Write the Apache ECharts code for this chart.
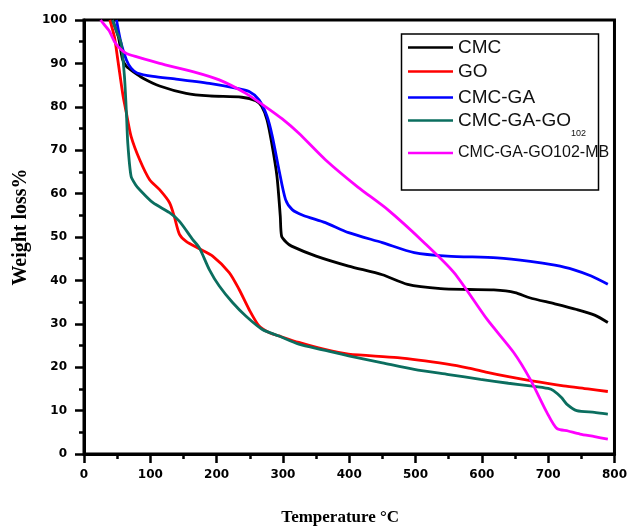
<!DOCTYPE html>
<html>
<head>
<meta charset="utf-8">
<script src="https://cdn.jsdelivr.net/npm/echarts@6/dist/echarts.min.js"></script>
<style>
html,body{margin:0;padding:0;background:#fff;}
#chart{width:630px;height:531px;}
</style>
</head>
<body>
<div id="chart"></div>
<script>
// ---- data ----
const seriesNames = ['CMC', 'GO', 'CMC-GA', 'CMC-GA-GO102', 'CMC-GA-GO102-MB'];

const cmcT = [43, 52, 58, 64, 75, 89, 114, 154, 189, 238, 259, 268, 276, 283, 291, 296, 298, 305, 313, 350, 399, 450, 488, 538, 580, 618, 650, 672, 710, 743, 770, 790];
const cmcW = [100, 96, 91, 89.3, 88, 86.6, 84.8, 83.1, 82.5, 82.2, 81.4, 80.1, 77, 71.7, 64, 54.8, 50.2, 48.8, 47.9, 45.6, 43.3, 41.3, 39.1, 38.1, 37.9, 37.8, 37.2, 36, 34.6, 33.3, 32, 30.3];

const goT = [39, 46, 51, 59, 64, 71, 84, 99, 114, 129, 136, 144, 154, 174, 194, 219, 234, 249, 264, 279, 294, 324, 360, 399, 473, 548, 580, 608, 640, 673, 723, 760, 790];
const goW = [100, 96, 90.8, 82.4, 78.5, 73.2, 67.8, 63.2, 60.9, 57.9, 54.8, 50.6, 49, 47.3, 45.6, 41.8, 37.9, 33.3, 29.5, 28, 27.2, 25.7, 24.2, 23, 22.2, 20.7, 19.8, 18.8, 17.8, 16.9, 15.7, 15, 14.4];

const gaT = [49, 56, 64, 71, 80, 104, 139, 189, 229, 249, 264, 276, 284, 294, 304, 314, 330, 364, 399, 450, 498, 548, 623, 673, 710, 738, 765, 790];
const gaW = [100, 94.6, 90.8, 88.9, 87.8, 87, 86.4, 85.4, 84.3, 83.5, 81.6, 77.8, 73.2, 65.5, 58.6, 56.3, 55, 53.3, 51, 48.7, 46.4, 45.6, 45.2, 44.4, 43.5, 42.5, 41, 39.1];

const gagoT = [43, 50, 56, 61, 64, 66, 71, 78, 84, 104, 129, 144, 164, 174, 189, 204, 224, 244, 269, 294, 324, 360, 399, 450, 498, 550, 598, 640, 673, 700, 708, 720, 728, 743, 770, 790];
const gagoW = [100, 97, 94.6, 87, 78.5, 71.7, 64, 62, 60.9, 57.9, 55.6, 53.6, 49.4, 47.5, 42.5, 38.7, 34.9, 31.8, 28.7, 27.2, 25.3, 24, 22.6, 21, 19.5, 18.3, 17.2, 16.3, 15.7, 15.1, 14.6, 13, 11.5, 10, 9.6, 9.2];

const mbT = [25, 29, 38, 46, 55, 64, 80, 114, 164, 204, 244, 274, 299, 324, 364, 413, 458, 513, 558, 608, 648, 673, 698, 713, 730, 748, 770, 790];
const mbW = [100, 99.2, 97.5, 95, 93.3, 92.3, 91.5, 90, 88.1, 86.2, 83.1, 80, 77.2, 73.9, 67.8, 61.5, 56.3, 48.7, 41.8, 31, 23.4, 17.2, 9.6, 5.9, 5.3, 4.6, 4, 3.4];

const xTicks = [0, 100, 200, 300, 400, 500, 600, 700, 800];
const yTicks = [0, 10, 20, 30, 40, 50, 60, 70, 80, 90, 100];
// ---------------------------------------

const colors = ['#000000', '#ff0000', '#0000ff', '#0b6e5f', '#ff00ff'];
const xs = [cmcT, goT, gaT, gagoT, mbT];
const ys = [cmcW, goW, gaW, gagoW, mbW];

function zip(a, b) { return a.map((v, i) => [v, b[i]]); }

const chart = echarts.init(document.getElementById('chart'), null, {renderer: 'canvas'});

const tickFont = {fontFamily: 'DejaVu Sans', fontWeight: 'bold', fontSize: 12, color: '#000'};

const legendRows = [
  {name: 'CMC', top: 48 - 10},
  {name: 'GO', top: 72 - 10},
  {name: 'CMC-GA', top: 98 - 10},
  {name: 'CMC-GA-GO102', top: 111},
  {name: 'CMC-GA-GO102-MB', top: 154 - 9}
];

const legends = legendRows.map((r, i) => ({
  data: [r.name],
  left: 408,
  top: r.top,
  padding: 0,
  orient: 'vertical',
  selectedMode: false,
  icon: 'rect',
  itemWidth: 45,
  itemHeight: 2.5,
  textStyle: {
    fontFamily: 'Liberation Sans',
    fontSize: i === 4 ? 16 : 19,
    color: '#111',
    rich: {
      a: {fontFamily: 'Liberation Sans', fontSize: 19, color: '#111', lineHeight: 36, verticalAlign: 'middle'},
      b: {fontFamily: 'Liberation Sans', fontSize: 9, color: '#111', lineHeight: 10, verticalAlign: 'bottom'}
    }
  },
  formatter: function (n) {
    if (n === 'CMC-GA-GO102') return '{a|CMC-GA-GO}{b|102}';
    return n;
  }
}));

const option = {
  backgroundColor: '#fff',
  animation: false,
  grid: {left: 84, right: 12, top: 20, bottom: 76, show: true, borderColor: '#000', borderWidth: 3, backgroundColor: 'transparent'},
  legend: legends,
  graphic: [{
    type: 'rect',
    shape: {x: 401.5, y: 34, width: 197, height: 156},
    style: {fill: 'none', stroke: '#000', lineWidth: 1.5},
    z: -1
  }],
  xAxis: {
    type: 'value', min: 0, max: 800, interval: 100,
    name: 'Temperature °C', nameLocation: 'middle', nameGap: 55,
    nameTextStyle: {fontFamily: 'Liberation Serif', fontWeight: 'bold', fontSize: 17, color: '#000', padding: [0, 18, 0, 0]},
    axisLine: {lineStyle: {color: '#000', width: 3}},
    axisTick: {length: 9, lineStyle: {color: '#000', width: 2.5}},
    minorTick: {show: true, splitNumber: 2, length: 5, lineStyle: {color: '#000', width: 2.5}},
    axisLabel: Object.assign({margin: 15, formatter: v => String(v)}, tickFont),
    splitLine: {show: false}
  },
  yAxis: {
    type: 'value', min: 0, max: 100, interval: 10,
    name: 'Weight loss%', nameLocation: 'middle', nameGap: 52,
    nameTextStyle: {fontFamily: 'Liberation Serif', fontWeight: 'bold', fontSize: 20, color: '#000', padding: [0, 0, 0, 20]},
    axisLine: {lineStyle: {color: '#000', width: 3}},
    axisTick: {length: 9, lineStyle: {color: '#000', width: 2.5}},
    minorTick: {show: true, splitNumber: 2, length: 5, lineStyle: {color: '#000', width: 2.5}},
    axisLabel: Object.assign({margin: 17}, tickFont),
    splitLine: {show: false}
  },
  series: seriesNames.map((n, i) => ({
    name: n,
    type: 'line',
    data: zip(xs[i], ys[i]),
    symbol: 'none',
    smooth: 0.25,
    lineStyle: {color: colors[i], width: 2.8},
    itemStyle: {color: colors[i]},
    z: 2 + i
  }))
};

chart.setOption(option);
</script>
</body>
</html>
